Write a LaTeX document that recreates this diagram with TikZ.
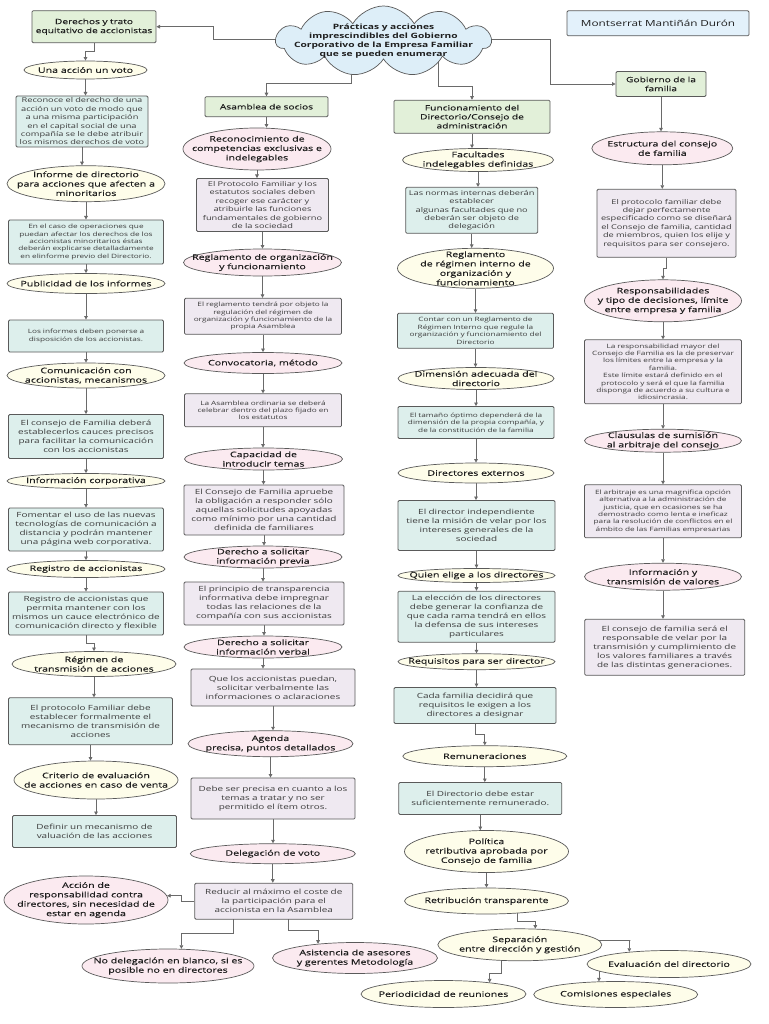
\documentclass[tikz,border=0pt]{standalone}
\usepackage{fontspec}
\setmainfont{Open Sans}[FakeStretch=1.4]
\newfontfamily\hfont{Open Sans}[FakeStretch=1.4,FakeBold=0.25]
\usetikzlibrary{shapes.geometric,shapes.symbols,arrows.meta,calc}
\definecolor{bordc}{HTML}{5A5A5A}
\definecolor{connc}{HTML}{6A6A6A}
\definecolor{greenf}{HTML}{E2F0D9}
\definecolor{cloudf}{HTML}{DDEEF8}
\definecolor{authf}{HTML}{E3F1FB}
\definecolor{creamf}{HTML}{FEFDEA}
\definecolor{pinkf}{HTML}{FBEAF0}
\definecolor{tealf}{HTML}{DDEFEC}
\definecolor{lavf}{HTML}{EFE9F1}
\definecolor{textc}{HTML}{3C3C3C}
\definecolor{headc}{HTML}{1E1E1E}
\pgfdeclarelayer{bg}
\pgfsetlayers{bg,main}
\newcommand\szH{\fontsize{7.6}{9.4}\selectfont}
\newcommand\szT{\fontsize{7.3}{9}\selectfont}
\newcommand\szA{\fontsize{7.1}{9}\selectfont}
\newcommand\szB{\fontsize{6.6}{8.4}\selectfont}
\newcommand\szS{\fontsize{5.9}{7.4}\selectfont}
\newcommand\szU{\fontsize{8.4}{10}\selectfont}
\newcommand\szC{\fontsize{7.3}{9}\selectfont}
\tikzset{
  conn/.style={draw=connc, line width=0.8pt, -{Triangle[length=3.6pt,width=3.6pt]}},
  rbase/.style={draw=bordc, line width=0.8pt, rounded corners=1.2pt, align=center, inner xsep=1.5pt, inner ysep=1pt, text=textc, font=\szA},
  gbox/.style={rbase, fill=greenf, font=\hfont\szT, text=headc},
  tbox/.style={rbase, fill=tealf},
  lbox/.style={rbase, fill=lavf},
  abox/.style={rbase, fill=authf, font=\szU, text=headc},
  ebase/.style={ellipse, draw=bordc, line width=0.7pt, inner sep=0pt},
  cell/.style={ebase, fill=creamf},
  pell/.style={ebase, fill=pinkf},
  lab/.style={align=center, inner sep=0pt, font=\hfont\szH, text=headc},
}
\newcommand\mkbox[7]{\pgfmathsetmacro\tw{#5-3}\node[#2, text width=\tw pt, minimum height=#6pt] (#1) at (#3,#4) {#7};}
\newcommand\mkell[7]{\node[#2, minimum width=#5pt, minimum height=#6pt, label={[lab]center:{#7}}] (#1) at (#3,#4) {};}
\newcommand\lnk[2]{\draw[conn] (#1.south) -- (#1.south |- #2.north);}
\newcommand\lnkj[2]{\draw[conn] (#1.south) |- ($(#1.south)!.5!(#2.north)$) -| (#2.north);}
\begin{document}
\begin{tikzpicture}[x=1pt,y=-1pt]
\useasboundingbox (0,0) rectangle (768,1024);
% cloud and author
\node[cloud, cloud puffs=11, cloud puff arc=120, cloud ignores aspect, draw=bordc, line width=0.7pt, fill=cloudf, minimum width=215pt, minimum height=70pt, inner sep=0pt,
  label={[align=center, inner sep=0pt, font=\bfseries\szC, text=headc]center:{Prácticas y acciones\\imprescindibles del Gobierno\\Corporativo de la Empresa Familiar\\que se pueden enumerar}}] (Cl) at (383.5,41) {};
\mkbox{Auth}{abox}{658}{23.3}{182}{25}{Montserrat Mantiñán Durón}
% left column
\mkbox{L0}{gbox}{94}{26.7}{124}{32}{Derechos y trato\\equitativo de accionistas}
\mkell{L1}{cell}{85.5}{70}{123}{18}{Una acción un voto}
\mkbox{L2}{tbox,font=\szB}{82}{121.5}{132}{51}{Reconoce el derecho de una\\acción un voto de modo que\\a una misma participación\\en el capital social de una\\compañía se le debe atribuir\\los mismos derechos de voto}
\mkell{L3}{cell}{86}{183.7}{158}{36}{Informe de directorio\\para acciones que afecten a\\minoritarios}
\mkbox{L4}{tbox,font=\szS}{86}{242}{155}{44}{En el caso de operaciones que\\puedan afectar los derechos de los\\accionistas minoritarios éstas\\deberán explicarse detalladamente\\en elinforme previo del Directorio.}
\mkell{L5}{cell}{86}{283.5}{158}{20}{Publicidad de los informes}
\mkbox{L6}{tbox,font=\szS}{86}{336}{155}{32}{Los informes deben ponerse a\\disposición de los accionistas.}
\mkell{L7}{cell}{86}{375.5}{158}{25}{Comunicación con\\accionistas, mecanismos}
\mkbox{L8}{tbox}{86}{436.5}{155}{44}{El consejo de Familia deberá\\establecerlos cauces precisos\\para facilitar la comunicación\\con los accionistas}
\mkell{L9}{cell}{86}{481}{158}{15}{Información corporativa}
\mkbox{L10}{tbox}{86}{529.5}{155}{43}{Fomentar el uso de las nuevas\\tecnologías de comunicación a\\distancia y podrán mantener\\una página web corporativa.}
\mkell{L11}{cell}{86}{569}{158}{17}{Registro de accionistas}
\mkbox{L12}{tbox}{86}{613.5}{155}{43}{Registro de accionistas que\\permita mantener con los\\mismos un cauce electrónico de\\comunicación directo y flexible}
\mkell{L13}{cell}{94}{664}{164}{25}{Régimen de\\transmisión de acciones}
\mkbox{L14}{tbox}{90.5}{721.3}{164}{47}{El protocolo Familiar debe\\establecer formalmente el\\mecanismo de transmisión de\\acciones}
\mkell{L15}{cell}{96}{780}{164}{38}{Criterio de evaluación\\de acciones en caso de venta}
\mkbox{L16}{tbox}{94.5}{831.5}{164}{32}{Definir un mecanismo de\\valuación de las acciones}
\mkell{Acc}{pell}{86}{900}{164}{48}{Acción de\\responsabilidad contra\\directores, sin necesidad de\\estar en agenda}
\mkell{NoDel}{pell}{168}{966}{172}{34}{No delegación en blanco, si es\\posible no en directores}
% middle-left column
\mkbox{M0}{gbox}{266.5}{106.7}{123}{20}{Asamblea de socios}
\mkell{M1}{pell}{257}{149}{148}{42}{Reconocimiento de\\competencias exclusivas e\\indelegables}
\mkbox{M2}{lbox,font=\szB}{262.5}{205}{132}{53}{El Protocolo Familiar y los\\estatutos sociales deben\\recoger ese carácter y\\atribuirle las funciones\\fundamentales de gobierno\\de la sociedad}
\mkell{M3}{pell}{262.5}{262.5}{158}{27}{Reglamento de organización\\y funcionamiento}
\mkbox{M4}{lbox,font=\szS}{263}{316.3}{157}{36}{El reglamento tendrá por objeto la\\regulación del régimen de\\organización y funcionamiento de la\\propia Asamblea}
\mkell{M5}{pell}{263}{363}{158}{21}{Convocatoria, método}
\mkbox{M6}{lbox,font=\szS}{263}{410.3}{157}{33}{La Asamblea ordinaria se deberá\\celebrar dentro del plazo fijado en\\los estatutos}
\mkell{M7}{pell}{263.5}{459}{158}{22}{Capacidad de\\introducir temas}
\mkbox{M8}{lbox}{264}{510}{160}{50}{El Consejo de Familia apruebe\\la obligación a responder sólo\\aquellas solicitudes apoyadas\\como mínimo por una cantidad\\definida de familiares}
\mkell{M9}{pell}{263}{557}{158}{22}{Derecho a solicitar\\información previa}
\mkbox{M10}{lbox}{264}{603.5}{160}{43}{El principio de transparencia\\informativa debe impregnar\\todas las relaciones de la\\compañía con sus accionistas}
\mkell{M11}{pell}{263}{647}{158}{22}{Derecho a solicitar\\información verbal}
\mkbox{M12}{lbox}{273}{687.5}{164}{37}{Que los accionistas puedan,\\solicitar verbalmente las\\informaciones o aclaraciones}
\mkell{M13}{pell}{270.5}{743.7}{165}{26}{Agenda\\precisa, puntos detallados}
\mkbox{M14}{lbox}{273}{798.5}{164}{41}{Debe ser precisa en cuanto a los\\temas a tratar y no ser\\permitido el ítem otros.}
\mkell{M15}{pell}{272.8}{853.7}{165}{20}{Delegación de voto}
\mkbox{M16}{lbox}{273.8}{901.2}{158}{36}{Reducir al máximo el coste de\\la participación para el\\accionista en la Asamblea}
\mkell{M17}{pell}{355}{958}{165}{31}{Asistencia de asesores\\y gerentes Metodología}
% middle-right column
\mkbox{R0}{gbox}{472}{116.7}{156}{33}{Funcionamiento del\\Directorio/Consejo de\\administración}
\mkell{R1}{cell}{478}{160}{151}{23}{Facultades\\indelegables definidas}
\mkbox{R2}{tbox,font=\szB}{471.7}{210.3}{132}{46}{Las normas internas deberán\\establecer\\algunas facultades que no\\deberán ser objeto de\\delegación}
\mkell{R3}{cell}{475.5}{268.3}{156}{40}{Reglamento\\de régimen interno de\\organización y\\funcionamiento}
\mkbox{R4}{tbox,font=\szS}{475.5}{330.8}{156}{35}{Contar con un Reglamento de\\Régimen Interno que regule la\\organización y funcionamiento del\\Directorio}
\mkell{R5}{cell}{476}{378.5}{156}{22}{Dimensión adecuada del\\directorio}
\mkbox{R6}{tbox,font=\szS}{476}{422.5}{156}{32}{El tamaño óptimo dependerá de la\\dimensión de la propia compañía, y\\de la constitución de la familia}
\mkell{R7}{cell}{476}{473}{156}{20}{Directores externos}
\mkbox{R8}{tbox}{476.5}{525.5}{157}{50}{El director independiente\\tiene la misión de velar por los\\intereses generales de la\\sociedad}
\mkell{R9}{cell}{476.5}{575.5}{157}{14}{Quien elige a los directores}
\mkbox{R10}{tbox}{476.5}{616.7}{157}{51}{La elección de los directores\\debe generar la confianza de\\que cada rama tendrá en ellos\\la defensa de sus intereses\\particulares}
\mkell{R11}{cell}{476.5}{661.7}{157}{16}{Requisitos para ser director}
\mkbox{R12}{tbox}{475}{705.5}{162}{36}{Cada familia decidirá que\\requisitos le exigen a los\\directores a designar}
\mkell{R13}{cell}{484.8}{756.2}{164}{21}{Remuneraciones}
\mkbox{R14}{tbox}{480.3}{798.5}{163}{32}{El Directorio debe estar\\suficientemente remunerado.}
\mkell{R15}{cell}{486.5}{851.5}{164}{42}{Política\\retributiva aprobada por\\Consejo de familia}
\mkell{R16}{cell}{486.5}{901}{164}{26}{Retribución transparente}
\mkell{R17}{cell}{519.8}{944.8}{164}{32}{Separación\\entre dirección y gestión}
\mkell{R18}{cell}{669}{964}{164}{27}{Evaluación del directorio}
\mkell{R19}{cell}{443.5}{994}{165}{27}{Periodicidad de reuniones}
\mkell{R20}{cell}{615.7}{994.5}{164}{26}{Comisiones especiales}
% right column
\mkbox{G0}{gbox}{661}{84}{90}{25}{Gobierno de la\\familia}
\mkell{G1}{pell}{662.3}{148.3}{141}{33}{Estructura del consejo\\de familia}
\mkbox{G2}{lbox,font=\szB}{666.5}{223.3}{139}{68}{El protocolo familiar debe\\dejar perfectamente\\especificado como se diseñará\\el Consejo de familia, cantidad\\de miembros, quien los elije y\\requisitos para ser consejero.}
\mkell{G3}{pell}{663}{300.8}{157}{42}{Responsabilidades\\y tipo de decisiones, límite\\entre empresa y familia}
\mkbox{G4}{lbox,font=\szS}{663}{371.8}{157}{64}{La responsabilidad mayor del\\Consejo de Familia es la de preservar\\los límites entre la empresa y la\\familia.\\Este límite estará definido en el\\protocolo y será el que la familia\\disponga de acuerdo a su cultura e\\idiosincrasia.}
\mkell{G5}{pell}{663}{440.7}{157}{23}{Clausulas de sumisión\\al arbitraje del consejo}
\mkbox{G6}{lbox,font=\szS}{663}{511.3}{157}{53}{El arbitraje es una magnifica opción\\alternativa a la administración de\\justicia, que en ocasiones se ha\\demostrado como lenta e ineficaz\\para la resolución de conflictos en el\\ámbito de las Familias empresarias}
\mkell{G7}{pell}{663}{576.7}{157}{27}{Información y\\transmisión de valores}
\mkbox{G8}{lbox}{664.7}{647.3}{160}{56}{El consejo de familia será el\\responsable de velar por la\\transmisión y cumplimiento de\\los valores familiares a través\\de las distintas generaciones.}
% connectors
\begin{pgfonlayer}{bg}
\fill[white] (0,0) rectangle (768,1024);
\draw[conn] ($(Cl.center)+(0,-1.7)$) -- ++(-170.5,0) |- (L0.east);
\draw[conn] ($(Cl.center)+(0,-1.7)$) -- ++(166.5,0) |- (G0.west);
\draw[conn] ($(Cl.center)+(-32.5,0)$) -- ++(0,42.3) -| (M0.north);
\draw[conn] ($(Cl.center)+(55.2,0)$) -- ++(0,45.7) -| (R0.north);
\lnkj{L0}{L1}\lnk{L1}{L2}\lnk{L2}{L3}\lnk{L3}{L4}\lnk{L4}{L5}\lnk{L5}{L6}
\lnk{L6}{L7}\lnk{L7}{L8}\lnk{L8}{L9}\lnk{L9}{L10}\lnk{L10}{L11}\lnk{L11}{L12}
\lnkj{L12}{L13}\lnk{L13}{L14}\lnk{L14}{L15}\lnk{L15}{L16}
\lnk{M0}{M1}\lnk{M1}{M2}\lnk{M2}{M3}\lnk{M3}{M4}\lnk{M4}{M5}\lnk{M5}{M6}
\lnk{M6}{M7}\lnk{M7}{M8}\lnk{M8}{M9}\lnk{M9}{M10}\lnk{M10}{M11}\lnk{M11}{M12}
\lnk{M12}{M13}\lnk{M13}{M14}\lnk{M14}{M15}\lnk{M15}{M16}
\draw[conn] (M16.west) -- ++(-13,0) |- (Acc.3);
\draw[conn] ($(M16.center)+(-40.5,0)$) -- ++(0,32.4) -| (NoDel.52);
\draw[conn] ($(M16.center)+(14.5,0)$) -- ++(0,29) -| (M17.159);
\lnk{R0}{R1}\lnk{R1}{R2}\lnk{R2}{R3}\lnk{R3}{R4}\lnk{R4}{R5}\lnk{R5}{R6}
\lnk{R6}{R7}\lnk{R7}{R8}\lnk{R8}{R9}\lnk{R9}{R10}\lnk{R10}{R11}\lnk{R11}{R12}
\lnkj{R12}{R13}\lnk{R13}{R14}\lnk{R14}{R15}\lnk{R15}{R16}
\draw[conn] ($(R16.center)+(30.5,0)$) -- ++(0,20.5) -| (R17.46);
\draw[conn] ($(R17.center)+(0,-4)$) -- ++(110.5,0) -| (R18.163);
\draw[conn] ($(R17.center)+(-18.8,0)$) -- ++(0,28.5) -| (R19.14);
\draw[conn] ($(R18.center)+(-69.7,0)$) -| (R20.142);
\lnk{G0}{G1}\lnk{G1}{G2}\lnkj{G2}{G3}\lnk{G3}{G4}\lnk{G4}{G5}\lnk{G5}{G6}
\lnk{G6}{G7}\lnk{G7}{G8}
\end{pgfonlayer}
\end{tikzpicture}
\end{document}
